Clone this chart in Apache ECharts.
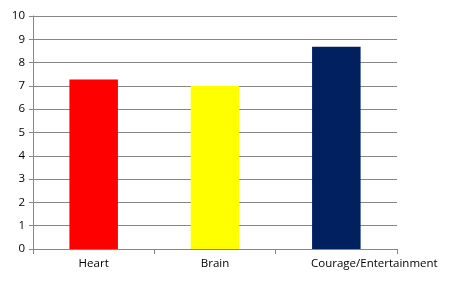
<!DOCTYPE html>
<html><head><meta charset="utf-8">
<script src="https://cdn.jsdelivr.net/npm/echarts@6/dist/echarts.min.js"></script>
<style>html,body{margin:0;padding:0;background:#fff}#c{width:459px;height:291px}</style>
</head><body><div id="c"></div>
<script>
const categories = ['Heart', 'Brain', 'Courage/Entertainment'];
const values = [7.27, 7.0, 8.68];
const barColors = ['#ff0000', '#ffff00', '#002060'];
const yTicks = [0,1,2,3,4,5,6,7,8,9,10];

const chart = echarts.init(document.getElementById('c'), null, {renderer:'canvas'});
chart.setOption({
  animation: false,
  grid: {left: 33, top: 16, right: 62, bottom: 42, containLabel: false},
  xAxis: {
    type: 'category',
    data: categories.map((c, i) => i === 2 ? {value: c, textStyle: {padding: [0, 0, 0, 76]}} : c),
    axisLine: {lineStyle: {color: '#868686'}},
    axisTick: {show: true, length: 5, lineStyle: {color: '#868686'}},
    axisLabel: {interval: 0, hideOverlap: false, color: '#000', fontFamily: 'Open Sans', fontSize: 11.5, margin: 9}
  },
  yAxis: {
    type: 'value', min: yTicks[0], max: yTicks[yTicks.length-1], interval: 1,
    axisLine: {show: true, lineStyle: {color: '#868686'}},
    axisTick: {show: true, length: 4, lineStyle: {color: '#868686'}},
    splitLine: {lineStyle: {color: '#868686'}},
    axisLabel: {color: '#000', fontFamily: 'Open Sans', fontSize: 11.5, margin: 8}
  },
  series: [{
    type: 'bar', barWidth: '40%',
    data: values.map((v, i) => ({value: v, itemStyle: {color: barColors[i]}}))
  }]
});
</script></body></html>
